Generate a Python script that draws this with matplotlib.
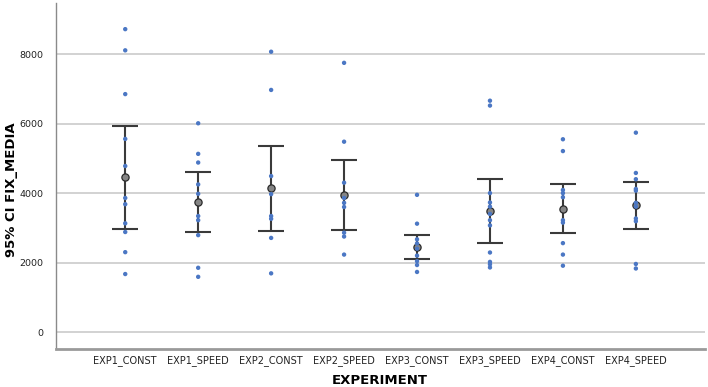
import numpy as np
import matplotlib
matplotlib.use("Agg")
import matplotlib.pyplot as plt

# categories on the x axis
experiments = ["EXP1_CONST", "EXP1_SPEED", "EXP2_CONST", "EXP2_SPEED",
               "EXP3_CONST", "EXP3_SPEED", "EXP4_CONST", "EXP4_SPEED"]

exp1_const = [8720, 8110, 6850, 5560, 4780, 3860, 3680, 3130, 2880, 2300, 1670]
exp1_speed = [6010, 5130, 4880, 4250, 3980, 3340, 3220, 2790, 1850, 1590]
exp2_const = [8070, 6970, 4490, 3970, 3340, 3260, 2710, 1690]
exp2_speed = [7750, 5480, 4300, 3860, 3720, 3600, 2860, 2750, 2230]
exp3_const = [3950, 3120, 2670, 2550, 2400, 2200, 2040, 1930, 1730]
exp3_speed = [6660, 6520, 4000, 3730, 3610, 3400, 3220, 3070, 2290, 2020, 1950, 1860]
exp4_const = [5550, 5210, 4090, 4000, 3880, 3220, 3150, 2560, 2230, 1910]
exp4_speed = [5740, 4580, 4400, 4120, 4070, 3720, 3610, 3270, 3190, 1960, 1830]

points = [exp1_const, exp1_speed, exp2_const, exp2_speed,
          exp3_const, exp3_speed, exp4_const, exp4_speed]

# means and 95% CI limits
means = [4460, 3740, 4140, 3955, 2446, 3474, 3540, 3655]
ci_low = [2975, 2880, 2915, 2935, 2100, 2560, 2840, 2973]
ci_high = [5930, 4605, 5362, 4950, 2790, 4403, 4250, 4326]

fig = plt.figure(figsize=(7.08, 3.87), dpi=100)
ax = fig.add_axes([0.079, 0.098, 0.917, 0.894])

x = np.arange(len(experiments))
means = np.array(means)
yerr = [means - np.array(ci_low), np.array(ci_high) - means]

# grid lines
for g in [0, 2000, 4000, 6000, 8000]:
    ax.axhline(g, color='#cfcfcf', lw=1.3, zorder=0)

ax.errorbar(x, means, yerr=yerr, fmt='none', ecolor='#3a3a3a',
            elinewidth=1.5, capsize=9.7, capthick=1.5, zorder=2)
ax.scatter(x, means, s=27, color='#858585', edgecolors='#2a2a2a',
           linewidths=0.9, zorder=3)

for i, vals in enumerate(points):
    ax.scatter(np.full(len(vals), x[i]), vals, s=10, color='#4b77c4',
               edgecolors='none', zorder=4)

ax.set_xlim(-0.95, 7.95)
ax.set_ylim(-490, 9470)
ax.set_xticks(x)
ax.set_xticklabels(experiments, fontsize=7, color='#222222')
ax.set_yticks([0, 2000, 4000, 6000, 8000])
ax.set_yticklabels(['0', '2000', '4000', '6000', '8000'], fontsize=6.8, color='#222222')
ax.tick_params(axis='y', length=0, pad=9)
ax.tick_params(axis='x', length=0, pad=4)

ax.spines['top'].set_visible(False)
ax.spines['right'].set_visible(False)
ax.spines['left'].set_color('#8a8a8a')
ax.spines['left'].set_linewidth(1.0)
ax.spines['bottom'].set_color('#9a9a9a')
ax.spines['bottom'].set_linewidth(2.0)

# axis titles placed by hand so they fit in the small figure
fig.text(12 / 708, 1 - 190 / 387, '95% CI FIX_MEDIA', rotation=90,
         ha='center', va='center', fontsize=9.5, fontweight='bold')
fig.text(380 / 708, 1 - 380 / 387, 'EXPERIMENT', ha='center', va='center',
         fontsize=9.5, fontweight='bold')

fig.savefig('out.png', dpi=100)
